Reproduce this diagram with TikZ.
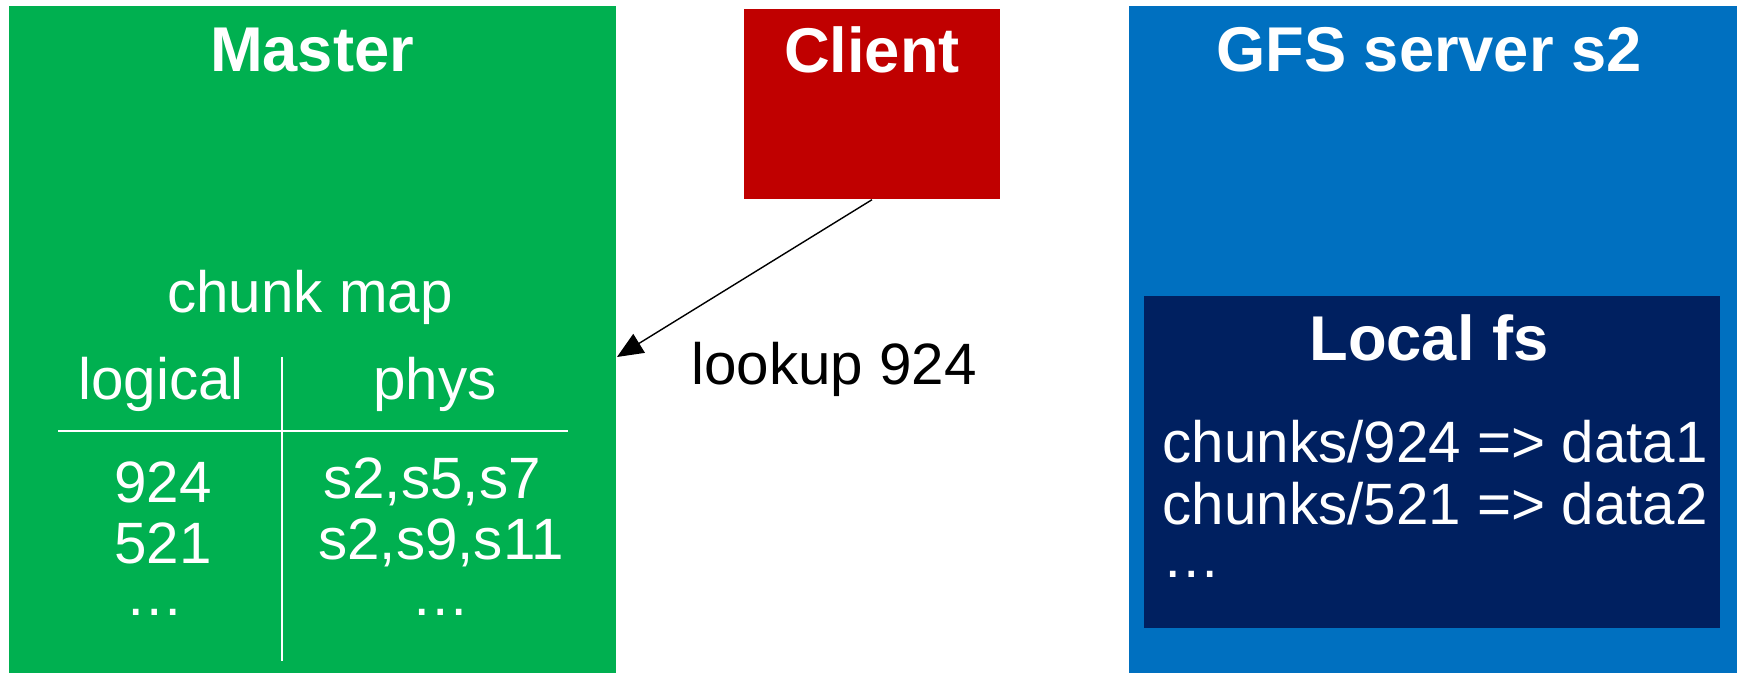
\documentclass[tikz,border=0pt]{standalone}
\usepackage{fontspec}
\setmainfont{Liberation Sans}
\usetikzlibrary{arrows.meta}

\definecolor{mastergreen}{RGB}{0,176,80}
\definecolor{clientred}{RGB}{192,0,0}
\definecolor{serverblue}{RGB}{0,112,192}
\definecolor{fsnavy}{RGB}{0,32,96}

\tikzset{
  box/.style={rectangle, inner sep=0pt},
  title/.style={text=white, font=\fontsize{18}{21}\selectfont\bfseries},
  body/.style={text=white, inner sep=0pt, font=\fontsize{16.6}{18.2}\selectfont},
}

\begin{document}
\begin{tikzpicture}
    \useasboundingbox (0, 0) rectangle (17.37, 6.73);

    % 箱
    \node[box, fill=mastergreen, minimum width=6.07cm, minimum height=6.67cm] (master) at (3.125, 3.335) {};
    \node[box, fill=clientred, minimum width=2.56cm, minimum height=1.90cm] (client) at (8.72, 5.69) {};
    \node[box, fill=serverblue, minimum width=6.08cm, minimum height=6.67cm] (server) at (14.33, 3.335) {};
    \node[box, fill=fsnavy, minimum width=5.76cm, minimum height=3.32cm] (localfs) at (14.32, 2.11) {};

    % 見出し
    \node[title] (mastertitle) at (3.12, 6.23) {Master};
    \node[title] (clienttitle) at (8.72, 6.23) {Client};
    \node[title] (servertitle) at (14.29, 6.23) {GFS server s2};
    \node[title] (fstitle) at (14.29, 3.35) {Local fs};

    % 表
    \node[body] (chunkmap) at (3.10, 3.76) {chunk map};
    \node[body] (logical) at (1.61, 2.89) {logical};
    \node[body] (phys) at (4.35, 2.89) {phys};
    \node[body] (l1) at (1.63, 1.91) {924};
    \node[body] (p1) at (4.32, 1.91) {s2,s5,s7};
    \node[body] (l2) at (1.63, 1.30) {521};
    \node[body] (p2) at (4.41, 1.30) {s2,s9,s11};
    \node[body, anchor=base] (l3) at (1.55, 0.57) {…};
    \node[body, anchor=base] (p3) at (4.41, 0.57) {…};
    \draw[white, line width=0.5pt] (0.58, 2.42) -- (5.68, 2.42);
    \draw[white, line width=0.5pt] (2.82, 3.16) -- (2.82, 0.12);

    % Local fs の中身
    \node[body, anchor=west] (fs1) at (11.62, 2.31) {chunks/924 => data1};
    \node[body, anchor=west] (fs2) at (11.62, 1.69) {chunks/521 => data2};
    \node[body, anchor=base west] (fs3) at (11.62, 0.95) {…};

    % 矢印
    \coordinate (tip) at (6.17, 3.16);
    \draw[line width=0.4pt, -{Triangle[length=0.26cm, width=0.22cm]}] (client.south) -- (tip);
    \node[font=\fontsize{16.6}{18.2}\selectfont] (lookup) at (8.34, 3.04) {lookup 924};

  \end{tikzpicture}
\end{document}
